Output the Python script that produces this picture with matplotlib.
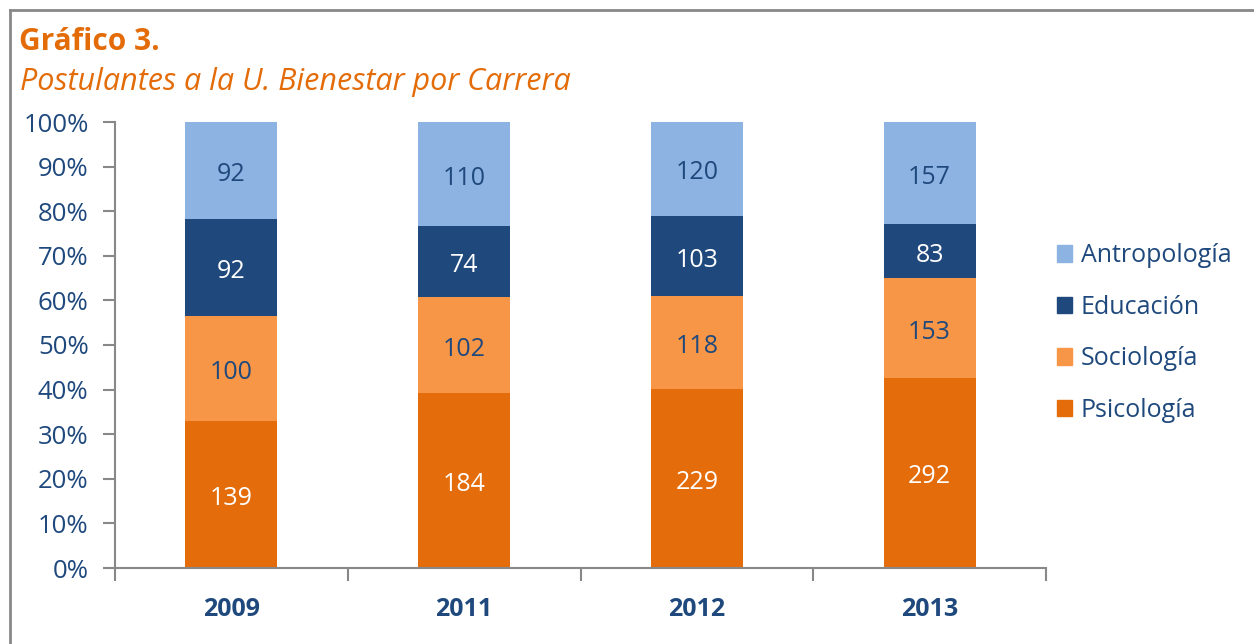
import matplotlib
matplotlib.use("Agg")
import matplotlib.pyplot as plt
from matplotlib.lines import Line2D
from matplotlib.patches import Patch
import numpy as np

plt.rcParams['font.family'] = ['Open Sans', 'DejaVu Sans']

years = ["2009", "2011", "2012", "2013"]
series_names = ["Psicología", "Sociología", "Educación", "Antropología"]
psicologia = [139, 184, 229, 292]
sociologia = [100, 102, 118, 153]
educacion = [92, 74, 103, 83]
antropologia = [92, 110, 120, 157]

colors = ["#E46C0A", "#F79646", "#1F497D", "#8DB3E2"]
label_colors = ["white", "#1F497D", "white", "#1F497D"]
navy = "#1F497D"
orange = "#E36C09"

W, H = 1254, 644
fig = plt.figure(figsize=(W / 100, H / 100), dpi=100)

# frame
fig.add_artist(Line2D([10 / W, 10 / W], [0, 1 - 10 / H], transform=fig.transFigure, color="#888888", lw=2))
fig.add_artist(Line2D([10 / W, 1], [1 - 10 / H, 1 - 10 / H], transform=fig.transFigure, color="#888888", lw=2))

fig.text(19 / W, 1 - 42 / H, "Gráfico 3.", color=orange, fontsize=21.5, fontweight="bold", va="center", ha="left")
fig.text(20 / W, 1 - 82 / H, "Postulantes a la U. Bienestar por Carrera", color=orange, fontsize=22,
         fontstyle="italic", va="center", ha="left")

x0, x1, ytop, ybot = 115, 1046, 122, 568
ax = fig.add_axes([x0 / W, (H - ybot) / H, (x1 - x0) / W, (ybot - ytop) / H])

data = np.array([psicologia, sociologia, educacion, antropologia], dtype=float)
totals = data.sum(axis=0)
pct = data / totals * 100
x = np.arange(len(years))
bottom = np.zeros(len(years))
for i, name in enumerate(series_names):
    ax.bar(x, pct[i], bottom=bottom, width=0.395, color=colors[i], label=name, zorder=2)
    for j in range(len(years)):
        ax.annotate(f"{int(data[i][j])}", (x[j], bottom[j] + pct[i][j] / 2), xytext=(0, -4),
                    textcoords="offset pixels", ha="center", va="center",
                    color=label_colors[i], fontsize=18)
    bottom += pct[i]

ax.set_xlim(-0.5, len(years) - 0.5)
ax.set_ylim(0, 100)
ax.set_yticks(np.arange(0, 101, 10))
ax.set_yticklabels([f"{v}%" for v in range(0, 101, 10)], color=navy, fontsize=18.5)
ax.set_xticks(x)
ax.set_xticklabels(years, color=navy, fontsize=18, fontweight="bold")
ax.set_xticks(np.arange(-0.5, len(years), 1), minor=True)
ax.tick_params(axis="x", which="major", length=0, pad=21)
ax.tick_params(axis="x", which="minor", length=9, color="#888888", width=1.5)
ax.tick_params(axis="y", length=9, color="#888888", width=1.5, pad=10)
for s in ["top", "right"]:
    ax.spines[s].set_visible(False)
for s in ["left", "bottom"]:
    ax.spines[s].set_color("#888888")
    ax.spines[s].set_linewidth(1.5)

handles = [Patch(color=colors[i], label=series_names[i]) for i in [3, 2, 1, 0]]
fig.legend(handles=handles, loc="center left", bbox_to_anchor=(1034 / W, 1 - 333 / H), frameon=False,
           fontsize=18, labelcolor=navy, handlelength=0.62, handleheight=0.62, handletextpad=0.35,
           labelspacing=1.06)

fig.savefig("out.png", dpi=100)
